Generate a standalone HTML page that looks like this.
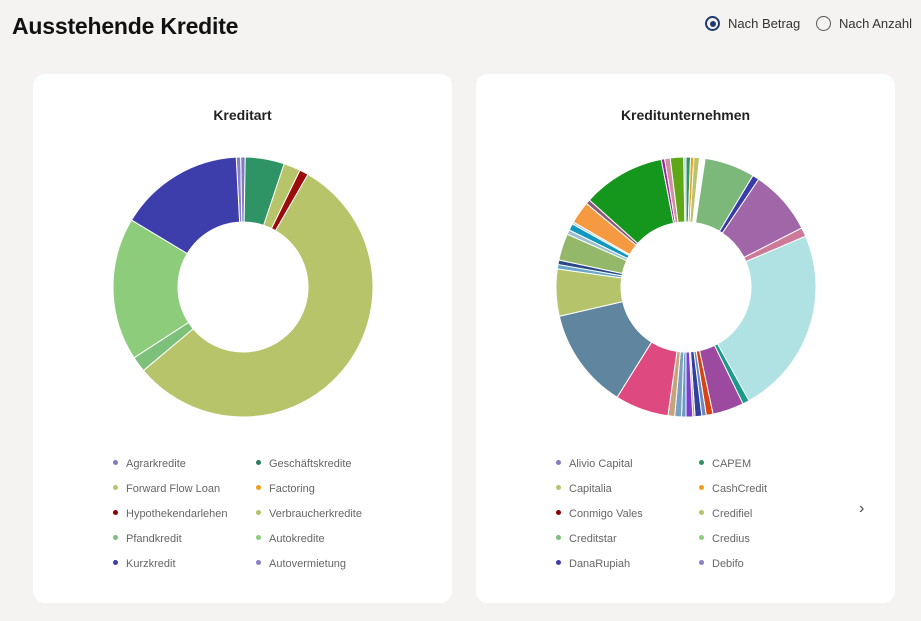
<!DOCTYPE html>
<html><head><meta charset="utf-8">
<style>
*{margin:0;padding:0;box-sizing:border-box}
body{width:921px;height:621px;background:#f5f3f1;font-family:"Liberation Sans",sans-serif;position:relative;overflow:hidden}
h1{position:absolute;left:12px;top:13px;font-size:23px;font-weight:bold;color:#111;letter-spacing:-0.2px}
.radio{position:absolute;top:16px;font-size:13px;color:#333;display:flex;align-items:center}
.radio i{width:15px;height:15px;border-radius:50%;border:1.5px solid #555;margin-right:8px;display:inline-block;position:relative}
.radio i.on{border:2px solid #1e3a6e}
.radio i.on:after{content:"";position:absolute;left:2.5px;top:2.5px;width:6px;height:6px;border-radius:50%;background:#1e3a6e}
.card{position:absolute;top:74px;width:419px;height:529px;background:#fff;border-radius:12px}
.leg{position:absolute;font-size:11px;color:#666;white-space:nowrap}
.leg b{display:inline-block;width:5px;height:5px;border-radius:50%;margin-right:8px;vertical-align:2px}
svg{position:absolute;left:0;top:0}
</style></head><body>
<h1>Ausstehende Kredite</h1>
<div class="radio" style="left:705px"><i class="on"></i>Nach Betrag</div>
<div class="radio" style="left:816px"><i></i>Nach Anzahl</div>
<div class="card" style="left:33px"></div>
<div class="card" style="left:476px"></div>
<div style="position:absolute;left:33px;top:107px;width:419px;text-align:center;font-size:14px;font-weight:bold;color:#222">Kreditart</div>
<div style="position:absolute;left:476px;top:107px;width:419px;text-align:center;font-size:14px;font-weight:bold;color:#222">Kreditunternehmen</div>
<svg id="s" width="921" height="621"></svg>
<div class="leg" style="left:113px;top:458px"><b style="background:#7e7ebf"></b>Agrarkredite</div>
<div class="leg" style="left:256px;top:458px"><b style="background:#2e7d5a"></b>Geschäftskredite</div>
<div class="leg" style="left:113px;top:483px"><b style="background:#b8c46a"></b>Forward Flow Loan</div>
<div class="leg" style="left:256px;top:483px"><b style="background:#f0a020"></b>Factoring</div>
<div class="leg" style="left:113px;top:508px"><b style="background:#8b0000"></b>Hypothekendarlehen</div>
<div class="leg" style="left:256px;top:508px"><b style="background:#b0c46a"></b>Verbraucherkredite</div>
<div class="leg" style="left:113px;top:533px"><b style="background:#7cc07a"></b>Pfandkredit</div>
<div class="leg" style="left:256px;top:533px"><b style="background:#8dcc7b"></b>Autokredite</div>
<div class="leg" style="left:113px;top:558px"><b style="background:#3d3dab"></b>Kurzkredit</div>
<div class="leg" style="left:256px;top:558px"><b style="background:#8a7fc7"></b>Autovermietung</div>
<div class="leg" style="left:556px;top:458px"><b style="background:#7e7ebf"></b>Alivio Capital</div>
<div class="leg" style="left:699px;top:458px"><b style="background:#2e9465"></b>CAPEM</div>
<div class="leg" style="left:556px;top:483px"><b style="background:#b8c46a"></b>Capitalia</div>
<div class="leg" style="left:699px;top:483px"><b style="background:#f0a020"></b>CashCredit</div>
<div class="leg" style="left:556px;top:508px"><b style="background:#8b0000"></b>Conmigo Vales</div>
<div class="leg" style="left:699px;top:508px"><b style="background:#b0c46a"></b>Credifiel</div>
<div class="leg" style="left:556px;top:533px"><b style="background:#7cc07a"></b>Creditstar</div>
<div class="leg" style="left:699px;top:533px"><b style="background:#8dcc7b"></b>Credius</div>
<div class="leg" style="left:556px;top:558px"><b style="background:#3d3dab"></b>DanaRupiah</div>
<div class="leg" style="left:699px;top:558px"><b style="background:#8a7fc7"></b>Debifo</div>
<div style="position:absolute;left:859px;top:500px;font-size:16px;color:#444">›</div>
<script>
var s=document.getElementById('s'),NS='http://www.w3.org/2000/svg';
function donut(cx,cy,R,r,sl){sl.forEach(function(a){
 var a0=a[0]*Math.PI/180,a1=a[1]*Math.PI/180,L=(a[1]-a[0])>180?1:0;
 function p(rr,t){return (cx+rr*Math.sin(t)).toFixed(2)+' '+(cy-rr*Math.cos(t)).toFixed(2)}
 var d='M'+p(R,a0)+'A'+R+' '+R+' 0 '+L+' 1 '+p(R,a1)+'L'+p(r,a1)+'A'+r+' '+r+' 0 '+L+' 0 '+p(r,a0)+'Z';
 var e=document.createElementNS(NS,'path');e.setAttribute('d',d);e.setAttribute('fill',a[2]);e.setAttribute('stroke','#fff');e.setAttribute('stroke-width','1');s.appendChild(e);});}
donut(243,287,130,65,[[-3,-1,'#8a7fc7'],[-1,1,'#7e7ebf'],[1,18.5,'#2e9465'],[18.5,26,'#b8c46a'],[26,30,'#9b0b0b'],[30,230,'#b8c46a'],[230,237,'#7cc07a'],[237,301,'#8dcc7b'],[301,357,'#3d3dab']]);
donut(686,287,130,65,[[0,2,'#2e9465'],[2,3.5,'#f0a020'],[3.5,6,'#b8c46a'],[6,8.5,'#fff'],[8.5,31,'#7cb87a'],[31,34,'#3a3aa8'],[34,63,'#a066a8'],[63,67,'#cc7a98'],[67,151,'#b0e2e4'],[151,154,'#1a9a8a'],[154,168,'#9b4aa0'],[168,171,'#d84315'],[171,173,'#6a8abf'],[173,176,'#3040a0'],[176,177,'#c0a080'],[177,180,'#7b3fd0'],[180,182,'#6a9ac8'],[182,185,'#7aa0c0'],[185,188,'#c8a27a'],[188,212,'#de4a80'],[212,257,'#5f869e'],[257,278,'#b5c36a'],[278,280,'#6aa8c8'],[280,282,'#2a4a8a'],[282,294,'#94b86a'],[294,296,'#9ac0d0'],[296,299,'#1098c0'],[299,300,'#b0d0e0'],[300,310,'#f59a40'],[310,312,'#8a5a7a'],[312,349,'#15971e'],[349,350.5,'#a020a0'],[350.5,353,'#d090a0'],[353,359,'#5ea818'],[359,360,'#aaccdd']]);
</script>
</body></html>
